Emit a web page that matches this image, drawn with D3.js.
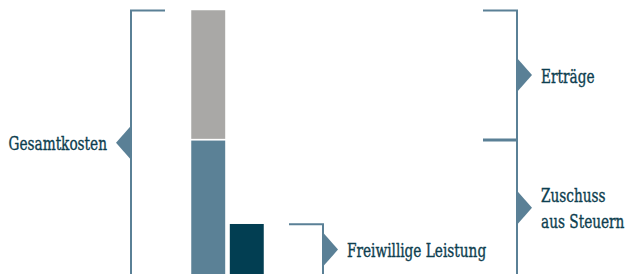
<!DOCTYPE html>
<html>
<head>
<meta charset="utf-8">
<script src="https://cdn.jsdelivr.net/npm/d3@7"></script>
<style>
  html, body { margin: 0; padding: 0; background: #fff; }
  svg { display: block; }
</style>
</head>
<body>
<script>
// data
var stackKeys = ["Zuschuss", "Ertraege"];
var stackValues = [51, 49];          // Zuschuss aus Steuern, Erträge
var freiwilligValue = [19.5];        // Freiwillige Leistung
var barCategories = ["Gesamt", "Freiwillig"];
var labelGesamt = ["Gesamtkosten"];
var labelErtraege = ["Erträge"];
var labelZuschuss = ["Zuschuss", "aus Steuern"];
var labelFreiwillig = ["Freiwillige Leistung"];

const width = 628, height = 274;
var bracketColor = "#5a8096";
var textColor = "#0d3e4f";
var colors = {Zuschuss: "#5b8196", Ertraege: "#a9a8a6", Freiwillig: "#023e52"};

var svg = d3.select("body").append("svg")
    .attr("width", width)
    .attr("height", height);

var yScale = d3.scaleLinear()
    .domain([0, 100])
    .range([275, 9.5]);

var xScale = d3.scaleBand()
    .domain(barCategories)
    .range([190.5, 264.5])
    .paddingInner(0.08);

// stacked bar
var stackRow = {};
stackKeys.forEach(function(k, i) { stackRow[k] = stackValues[i]; });
var series = d3.stack().keys(stackKeys)([stackRow]);

svg.selectAll(".seg")
    .data(series)
    .enter().append("rect")
    .attr("class", "seg")
    .attr("x", xScale("Gesamt"))
    .attr("width", xScale.bandwidth())
    .attr("y", function(d) { return yScale(d[0][1]); })
    .attr("height", function(d) { return yScale(d[0][0]) - yScale(d[0][1]); })
    .attr("fill", function(d) { return colors[d.key]; })
    .attr("stroke", "#fff")
    .attr("stroke-width", 1.5);

svg.selectAll(".fw")
    .data(freiwilligValue)
    .enter().append("rect")
    .attr("class", "fw")
    .attr("x", xScale("Freiwillig"))
    .attr("width", xScale.bandwidth())
    .attr("y", function(d) { return yScale(d); })
    .attr("height", function(d) { return yScale(0) - yScale(d); })
    .attr("fill", colors.Freiwillig)
    .attr("stroke", "#fff")
    .attr("stroke-width", 1.5);

// brackets
var total = d3.sum(stackValues);
var brackets = [
  {lo: 0, hi: total, x: 131, dir: -1, lines: labelGesamt},
  {lo: stackValues[0], hi: total, x: 517, dir: 1, lines: labelErtraege},
  {lo: 0, hi: stackValues[0], x: 517, dir: 1, lines: labelZuschuss},
  {lo: 0, hi: freiwilligValue[0], x: 323, dir: 1, lines: labelFreiwillig}
];
var arm = 34, tip = 15, half = 17, lineH = 26;
var squeeze = 0.8; // the original face is much narrower

brackets.forEach(function(b) {
  var y0 = yScale(b.hi) + 1, y1 = yScale(b.lo);
  var xa = b.x - b.dir * arm;
  svg.append("path")
      .attr("d", "M" + xa + "," + y0 + "H" + b.x + "V" + y1 + "H" + xa)
      .attr("fill", "none")
      .attr("stroke", bracketColor)
      .attr("stroke-width", 2);

  var cy = (y0 + y1) / 2;
  svg.append("path")
      .attr("d", "M" + b.x + "," + (cy - half) + "L" + (b.x + b.dir * tip) + "," + cy +
                 "L" + b.x + "," + (cy + half) + "Z")
      .attr("fill", bracketColor);

  var tx = b.x + b.dir * (tip + 9);
  var t = svg.append("text")
      .attr("transform", "translate(" + tx + ",0) scale(" + squeeze + ",1)")
      .attr("font-family", "'DejaVu Serif Condensed', 'DejaVu Serif', serif")
      .style("font-size", "19px")
      .attr("fill", textColor)
      .attr("stroke", textColor)
      .attr("stroke-width", 0.35)
      .style("text-anchor", b.dir < 0 ? "end" : "start");

  b.lines.forEach(function(line, i) {
    t.append("tspan")
        .attr("x", 0)
        .attr("y", cy + 7.6 - (b.lines.length - 1) * lineH / 2 + i * lineH)
        .text(line);
  });
});
</script>
</body>
</html>
